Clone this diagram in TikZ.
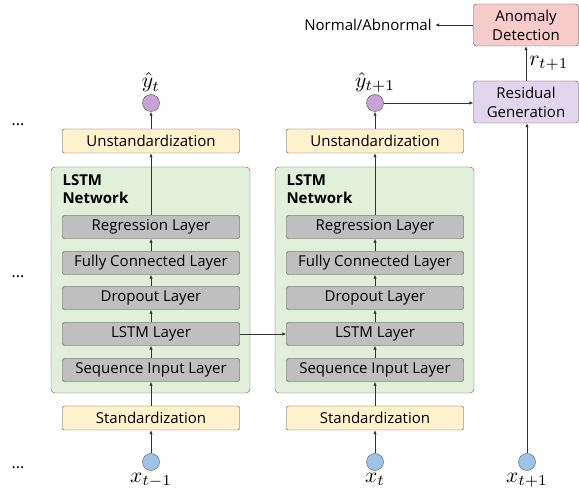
\documentclass[tikz,border=0pt]{standalone}
\usepackage{fontspec}
\setmainfont{Open Sans}
\usetikzlibrary{arrows.meta,positioning}
\definecolor{prepfill}{HTML}{FFF2CC}
\definecolor{netfill}{HTML}{E2EFDA}
\definecolor{layerfill}{HTML}{BFBFBF}
\definecolor{outfill}{HTML}{C9A3D6}
\definecolor{infill}{HTML}{9DC3E6}
\definecolor{resfill}{HTML}{E2D6EE}
\definecolor{anofill}{HTML}{F8CBCB}
\newcommand{\bigvar}[1]{\scalebox{2.15}{$#1$}}
\tikzset{
  txt/.style={font=\fontsize{15}{19}\selectfont},
  prep/.style={txt, draw=black!70, fill=prepfill, rounded corners=2pt, minimum width=177pt, minimum height=24pt, inner sep=0pt},
  layer/.style={txt, draw=black!75, fill=layerfill, rounded corners=2pt, minimum width=177pt, minimum height=23pt, inner sep=0pt},
  net/.style={draw=black!65, fill=netfill, rounded corners=4pt, minimum width=199pt, minimum height=226pt, inner sep=0pt},
  dot/.style={circle, draw=black!70, minimum size=17pt, inner sep=0pt},
  side/.style={txt, draw=black!70, rounded corners=3pt, minimum width=105pt, minimum height=42pt, align=center, inner sep=0pt},
  var/.style={inner sep=1pt},
  link/.style={->, draw=black!80, thick},
  etc/.style={font=\fontsize{16}{18}\selectfont}
}
\begin{document}
\begin{tikzpicture}[x=1pt, y=-1pt, >={Latex[length=4pt,width=3.5pt]}]
\useasboundingbox (0,0) rectangle (579,502);

% two unrolled time steps
\foreach \c/\cx/\xin/\yout in {a/151/{t-1}/{t}, b/375/{t}/{t+1}}{
  \node[net] (net\c) at (\cx-0.5,280) {};
  \node[anchor=north west, align=left, font=\fontsize{15}{18}\selectfont\bfseries] (nl\c) at (\cx-92,171) {LSTM\\Network};
  \node[prep] (un\c) at (\cx,141) {Unstandardization};
  \node[layer] (reg\c) at (\cx,227) {Regression Layer};
  \node[layer] (fc\c) at (\cx,263) {Fully Connected Layer};
  \node[layer] (drop\c) at (\cx,298) {Dropout Layer};
  \node[layer] (lstm\c) at (\cx,334) {LSTM Layer};
  \node[layer] (seq\c) at (\cx,370) {Sequence Input Layer};
  \node[prep] (std\c) at (\cx,418) {Standardization};
  \node[dot, fill=infill, draw=black!65] (x\c) at (\cx,462) {};
  \node[var, below=1pt of x\c] (xl\c) {\bigvar{x_{\xin}}};
  \node[dot, fill=outfill] (y\c) at (\cx,103) {};
  \node[var, above=1pt of y\c] (yl\c) {\bigvar{\hat{y}_{\yout}}};
  \draw[link] (x\c) -- (std\c);
  \draw[link] (std\c) -- (seq\c);
  \draw[link] (seq\c) -- (lstm\c);
  \draw[link] (lstm\c) -- (drop\c);
  \draw[link] (drop\c) -- (fc\c);
  \draw[link] (fc\c) -- (reg\c);
  \draw[link] (reg\c) -- (un\c);
  \draw[link] (un\c) -- (y\c);
}
\draw[link] (lstma) -- (lstmb);

% residual and detection
\node[side, fill=resfill] (res) at (526,102) {Residual\\Generation};
\node[side, fill=anofill] (ano) at (526,25) {Anomaly\\Detection};
\node[txt] (verdict) at (368,25) {Normal/Abnormal};
\node[dot, fill=infill, draw=black!65] (xc) at (527,462) {};
\node[var, below=1pt of xc] (xlc) {\bigvar{x_{t+1}}};
\draw[link] (xc) -- (xc |- res.south);
\draw[link] (yb) -- (yb -| res.west);
\draw[link] (res) -- node[var, right=2pt] (rl) {\bigvar{r_{t+1}}} (ano);
\draw[link] (ano) -- (verdict);

\node[etc] (d1) at (18,125) {...};
\node[etc] (d2) at (18,277) {...};
\node[etc] (d3) at (18,468) {...};
\end{tikzpicture}
\end{document}
